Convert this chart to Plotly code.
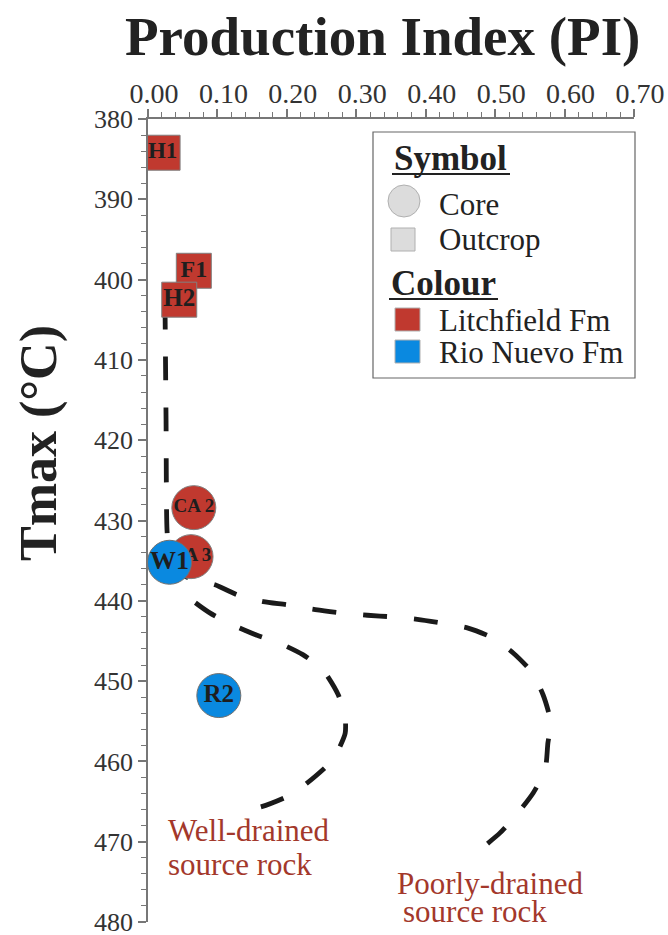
import plotly.graph_objects as go

# ---- sample data -------------------------------------------------------
outcrop_names = ["H1", "F1", "H2"]
outcrop_pi = [0.021, 0.066, 0.045]
outcrop_tmax = [384.2, 398.9, 402.5]

litch_core_names = ["CA 2", "CA 3"]
litch_core_pi = [0.066, 0.062]
litch_core_tmax = [428.4, 434.5]

rio_core_names = ["W1", "R2"]
rio_core_pi = [0.031, 0.102]
rio_core_tmax = [435.2, 451.8]

# ---- maturation trend envelopes ----------------------------------------
well_pi = [0.0245, 0.026, 0.0274, 0.032, 0.042, 0.058, 0.089, 0.122, 0.157,
           0.190, 0.223, 0.252, 0.274, 0.284, 0.284, 0.274, 0.262, 0.229,
           0.200, 0.161, 0.128]
well_tmax = [403.2, 417.5, 431.2, 435.5, 437.4, 439.5, 441.5, 443.0, 444.3,
             445.3, 446.7, 448.6, 451.7, 454.5, 456.5, 458.6, 460.2, 462.7,
             464.4, 465.7, 466.0]

poor_pi = [0.026, 0.0605, 0.0965, 0.130, 0.166, 0.200, 0.241, 0.277, 0.316,
           0.352, 0.388, 0.425, 0.461, 0.496, 0.526, 0.553, 0.569, 0.579,
           0.579, 0.576, 0.572, 0.555, 0.533, 0.507, 0.481]
poor_tmax = [435.9, 437.2, 438.0, 439.3, 440.1, 440.5, 441.1, 441.5, 441.8,
             442.0, 442.3, 442.8, 443.4, 444.6, 446.5, 448.9, 451.7, 454.6,
             456.1, 457.7, 461.1, 463.9, 466.4, 468.9, 470.8]

x_ticks = [0.0, 0.1, 0.2, 0.3, 0.4, 0.5, 0.6, 0.7]
y_ticks = [380, 390, 400, 410, 420, 430, 440, 450, 460, 470, 480]

# ---- styling -----------------------------------------------------------
SERIF = "Liberation Serif, Times New Roman, serif"
RED = "#c0392f"
BLUE = "#0a89e0"
LABEL_RED = "#a3382b"
DARK = "#1e1e1e"
AXIS = "#777777"

W, H = 668, 935
ML, MR, MT, MB = 148, 34, 119, 13
PW, PH = W - ML - MR, H - MT - MB


def px(x):
    return (x - ML) / PW


def py(y):
    return 1 - (y - MT) / PH


fig = go.Figure()

dash_style = dict(color="#1a1a1a", width=4.8, dash="24px,27px", shape="spline", smoothing=0.6)
fig.add_trace(go.Scatter(x=well_pi, y=well_tmax, mode="lines", line=dash_style,
                         hoverinfo="skip", showlegend=False))
fig.add_trace(go.Scatter(x=poor_pi, y=poor_tmax, mode="lines", line=dash_style,
                         hoverinfo="skip", showlegend=False))

fig.add_trace(go.Scatter(
    x=outcrop_pi, y=outcrop_tmax, text=outcrop_names, mode="markers+text",
    marker=dict(symbol="square", size=35, color=RED, line=dict(color="#808080", width=1)),
    textposition="middle center",
    textfont=dict(family=SERIF, size=[23, 24, 25], color=DARK, weight="bold"),
    showlegend=False))

fig.add_trace(go.Scatter(
    x=litch_core_pi, y=litch_core_tmax, text=litch_core_names, mode="markers+text",
    marker=dict(symbol="circle", size=44, color=RED, line=dict(color="#808080", width=1)),
    textposition="middle center",
    textfont=dict(family=SERIF, size=19, color=DARK, weight="bold"),
    showlegend=False))

fig.add_trace(go.Scatter(
    x=rio_core_pi, y=rio_core_tmax, text=rio_core_names, mode="markers+text",
    marker=dict(symbol="circle", size=44, color=BLUE, line=dict(color="#707070", width=1)),
    textposition="middle center",
    textfont=dict(family=SERIF, size=[26, 25], color=DARK, weight="bold"),
    showlegend=False))

fig.update_layout(
    xaxis=dict(
        side="top", range=[0, 0.7], tickmode="array", tickvals=x_ticks,
        ticktext=[f"{v:.2f}" for v in x_ticks],
        ticks="outside", ticklen=8, tickwidth=1.5, tickcolor=AXIS,
        showline=True, linecolor=AXIS, linewidth=1.5, showgrid=False, zeroline=False,
        minor=dict(dtick=0.02, ticks="outside", ticklen=5, tickwidth=1, tickcolor=AXIS, showgrid=False),
        tickfont=dict(family=SERIF, size=28, color="#333333"),
        ticklabelshift=6, ticklabelstandoff=-5, ticklabeloverflow="allow", automargin=False,
    ),
    yaxis=dict(
        range=[480, 380], tickmode="array", tickvals=y_ticks,
        ticktext=[str(v) for v in y_ticks],
        ticks="outside", ticklen=8, tickwidth=1.5, tickcolor=AXIS,
        showline=True, linecolor=AXIS, linewidth=1.5, showgrid=False, zeroline=False,
        minor=dict(dtick=2, ticks="outside", ticklen=5, tickwidth=1, tickcolor=AXIS, showgrid=False),
        tickfont=dict(family=SERIF, size=26, color="#333333"),
        ticklabeloverflow="allow", automargin=False,
    ),
)

shapes = []
annotations = []

# axis titles
annotations.append(dict(text="<b>Production Index (PI)</b>", xref="paper", yref="paper",
                        x=px(382), y=py(36), xanchor="center", yanchor="middle",
                        showarrow=False, font=dict(family=SERIF, size=55, color="#222222")))
annotations.append(dict(text="<b>Tmax (°C)</b>", xref="paper", yref="paper",
                        x=px(39), y=py(443), xanchor="center", yanchor="middle", textangle=-90,
                        showarrow=False, font=dict(family=SERIF, size=52, color="#222222")))

# envelope labels
for txt, x, y in [("Well-drained", 166, 830), ("source rock", 166, 864),
                  ("Poorly-drained", 395, 883), ("source rock", 401, 911)]:
    annotations.append(dict(text=txt, xref="paper", yref="paper", x=px(x), y=py(y),
                            xanchor="left", yanchor="middle", showarrow=False,
                            font=dict(family=SERIF, size=31, color=LABEL_RED)))

# key box
shapes.append(dict(type="rect", xref="paper", yref="paper", x0=px(373), x1=px(635),
                   y0=py(378), y1=py(132), line=dict(color="#666666", width=1.2),
                   fillcolor="white", layer="below"))

for title, x, y, w in [("Symbol", 392, 159, 118), ("Colour", 389, 284, 109)]:
    annotations.append(dict(text=f"<b>{title}</b>", xref="paper", yref="paper",
                            x=px(x), y=py(y), xanchor="left", yanchor="middle",
                            showarrow=False, font=dict(family=SERIF, size=35, color="#222222")))
    shapes.append(dict(type="line", xref="paper", yref="paper", x0=px(x), x1=px(x + w),
                       y0=py(y + 15), y1=py(y + 15), line=dict(color="#222222", width=2)))

shapes.append(dict(type="circle", xref="paper", yref="paper", x0=px(388), x1=px(420),
                   y0=py(217), y1=py(185), fillcolor="#dcdcdc", line=dict(color="#b0b0b0", width=1)))
shapes.append(dict(type="rect", xref="paper", yref="paper", x0=px(391), x1=px(415),
                   y0=py(251), y1=py(228), fillcolor="#dcdcdc", line=dict(color="#b0b0b0", width=1)))
shapes.append(dict(type="rect", xref="paper", yref="paper", x0=px(395), x1=px(420),
                   y0=py(331), y1=py(308), fillcolor=RED, line=dict(color="#b0b0b0", width=1)))
shapes.append(dict(type="rect", xref="paper", yref="paper", x0=px(395), x1=px(420),
                   y0=py(363), y1=py(340), fillcolor=BLUE, line=dict(color="#b0b0b0", width=1)))

for txt, y in [("Core", 204), ("Outcrop", 240), ("Litchfield Fm", 320), ("Rio Nuevo Fm", 352)]:
    annotations.append(dict(text=txt, xref="paper", yref="paper", x=px(437), y=py(y),
                            xanchor="left", yanchor="middle", showarrow=False,
                            font=dict(family=SERIF, size=31, color="#222222")))

fig.update_layout(
    width=W, height=H,
    margin=dict(l=ML, r=MR, t=MT, b=MB, pad=0, autoexpand=False),
    paper_bgcolor="white", plot_bgcolor="white",
    font=dict(family=SERIF),
    shapes=shapes, annotations=annotations,
    showlegend=False,
)

fig.write_html("out.html")
